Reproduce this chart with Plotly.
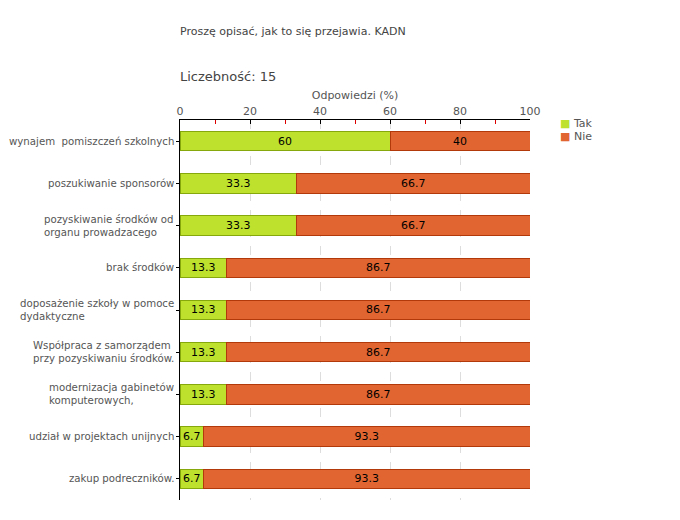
import plotly.graph_objects as go

categories = [
    "wynajem\u00a0\u00a0pomiszczeń szkolnych",
    "poszukiwanie sponsorów",
    "pozyskiwanie środków od<br>organu prowadzacego",
    "brak środków",
    "doposażenie szkoły w pomoce<br>dydaktyczne",
    "Współpraca z samorządem<br>przy pozyskiwaniu środków.",
    "modernizacja gabinetów<br>komputerowych,",
    "udział w projektach unijnych",
    "zakup podreczników.",
]
tak = [60, 33.3, 33.3, 13.3, 13.3, 13.3, 13.3, 6.7, 6.7]
nie = [40, 66.7, 66.7, 86.7, 86.7, 86.7, 86.7, 93.3, 93.3]
tick_vals = [0, 20, 40, 60, 80, 100]
minor_vals = [10, 30, 50, 70, 90]
series_names = ["Tak", "Nie"]
series_colors = ["#bde12d", "#e06530"]
series_lines = ["#86a80c", "#b23a0a"]

FONT = "DejaVu Sans"
OFF = 8  # page body margin
W, H = 680, 520
PL, PR, PT, PB = 180, 530, 120, 500  # plot box in screen pixels
PH = PB - PT
PW = PR - PL


def py(px):
    return (PB - px) / PH


def pxx(px):
    return (px - PL) / PW


fig = go.Figure()
for name, vals, col, lcol in zip(series_names, [tak, nie], series_colors, series_lines):
    fig.add_trace(go.Bar(
        y=categories, x=vals, name=name, orientation="h",
        marker=dict(color=col, line=dict(color=lcol, width=1)),
        text=[f"{v:g}" for v in vals], textposition="inside", insidetextanchor="middle",
        textfont=dict(color="#000000", size=11, family=FONT),
        width=0.46,
    ))

fig.update_layout(
    width=W, height=H,
    barmode="stack",
    plot_bgcolor="white", paper_bgcolor="white",
    margin=dict(l=PL - OFF, r=W - (PR - OFF), t=PT - OFF, b=H - (PB - OFF), autoexpand=False),
    font=dict(family=FONT, color="#555555", size=11),
    showlegend=False,
    uniformtext=dict(minsize=8, mode="show"),
)
fig.update_xaxes(
    side="top", range=[0, 100], tickvals=tick_vals, automargin=False,
    ticks="inside", ticklen=4, tickcolor="#000000",
    showline=True, linecolor="#000000", linewidth=1,
    showgrid=True, gridcolor="#dddddd", griddash="dash", gridwidth=1,
    zeroline=False,
    tickfont=dict(size=11, color="#555555", family=FONT),
    title=dict(text="Odpowiedzi (%)", font=dict(size=11, color="#555555", family=FONT), standoff=2),
    minor=dict(tickvals=minor_vals, ticks="inside", ticklen=4, tickcolor="#dd0000", showgrid=False),
)
fig.update_yaxes(
    autorange="reversed", automargin=False,
    showline=True, linecolor="#000000", linewidth=1,
    ticks="outside", ticklen=3, tickcolor="#000000",
    showticklabels=False,
    showgrid=False,
)

for cat in categories:
    fig.add_annotation(text=cat, xref="paper", yref="y", x=0, y=cat,
                       xanchor="right", yanchor="middle", align="left",
                       xshift=-4, showarrow=False,
                       font=dict(size=10.2, color="#555555", family=FONT))

# legend
for i, (name, col) in enumerate(zip(series_names, series_colors)):
    fig.add_annotation(text=f"<span style='color:{col}'>■</span> {name}",
                       xref="paper", yref="paper", x=pxx(558), y=py(123 + 13 * i),
                       xanchor="left", yanchor="middle", showarrow=False,
                       font=dict(size=11, color="#555555", family=FONT))

fig.add_annotation(text="Proszę opisać, jak to się przejawia. KADN", xref="paper", yref="paper",
                   x=0, y=py(31), xanchor="left", yanchor="middle",
                   showarrow=False, font=dict(size=11, color="#444444", family=FONT),
                   xshift=-2)
fig.add_annotation(text="Liczebność: 15", xref="paper", yref="paper",
                   x=0, y=py(76), xanchor="left", yanchor="middle",
                   showarrow=False, font=dict(size=13, color="#444444", family=FONT),
                   xshift=-2)

fig.write_html("out.html")
